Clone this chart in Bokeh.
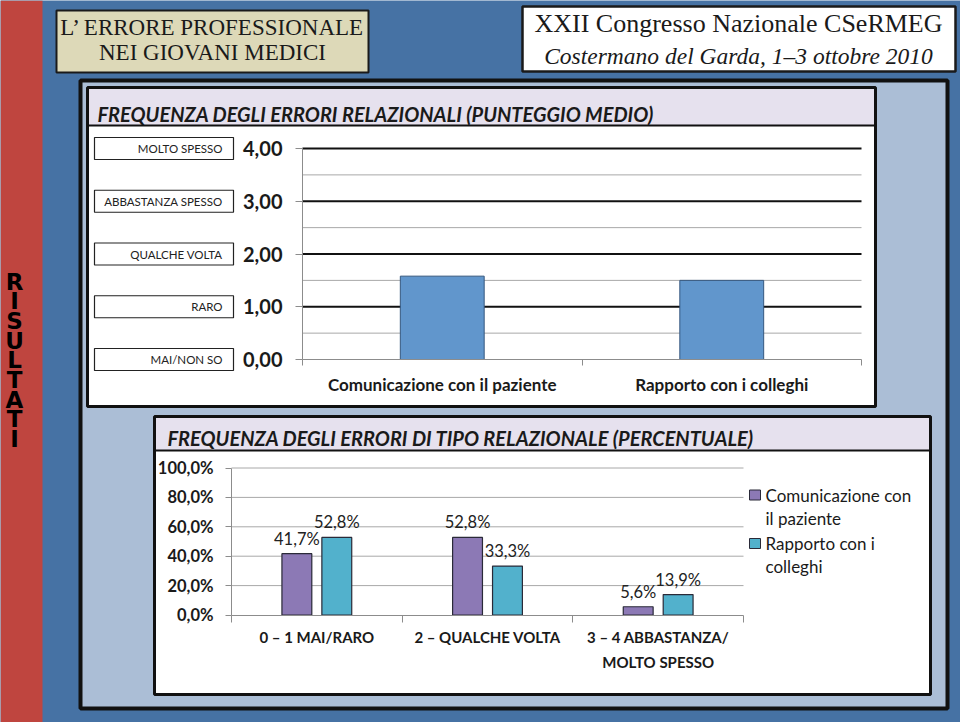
from bokeh.plotting import figure
from bokeh.models import Range1d, LinearAxis, FixedTicker, CustomJSTickFormatter
from bokeh.core.properties import value
from bokeh.embed import file_html
from bokeh.resources import INLINE

# ---------------- data ----------------
freq_levels = ["MAI/NON SO", "RARO", "QUALCHE VOLTA", "ABBASTANZA SPESSO", "MOLTO SPESSO"]
freq_ticks = [0, 1, 2, 3, 4]
top_categories = ["Comunicazione con il paziente", "Rapporto con i colleghi"]
top_scores = [1.58, 1.50]

pct_categories = ["0 \u2013 1 MAI/RARO", "2 \u2013 QUALCHE VOLTA", "3 \u2013 4 ABBASTANZA/\nMOLTO SPESSO"]
pct_paziente = [41.7, 52.8, 5.6]
pct_colleghi = [52.8, 33.3, 13.9]
series_names = ["Comunicazione con\nil paziente", "Rapporto con i\ncolleghi"]
pct_ticks = [0, 20, 40, 60, 80, 100]

title_lines = ["L\u2019 ERRORE PROFESSIONALE", "NEI GIOVANI MEDICI"]
logo_lines = ["XXII Congresso Nazionale CSeRMEG", "Costermano del Garda, 1\u20133 ottobre 2010"]
side_word = "RISULTATI"
top_title = "FREQUENZA DEGLI ERRORI RELAZIONALI (PUNTEGGIO MEDIO)"
bottom_title = "FREQUENZA DEGLI ERRORI DI TIPO RELAZIONALE (PERCENTUALE)"

# ---------------- styling ----------------
RED = "#BF453F"
BLUE = "#4672A4"
PANEL = "#ABBED6"
BEIGE = "#DDD9B8"
LAVENDER = "#E6E1EE"
BAR_TOP = "#6196CC"
PURPLE = "#8C79B5"
CYAN = "#52B1CC"
INK = "#1a1a1a"
AXIS_GRAY = "#8C8C8C"
GRID_GRAY = "#A8A8A8"
F = value("Lato")

W, H = 960, 722
X0, X1 = 0, 960
YT, YB = 0, 722

p = figure(width=W, height=H, x_range=Range1d(X0, X1), y_range=Range1d(YB, YT),
           output_backend="svg", toolbar_location=None,
           x_axis_type=None, y_axis_type=None, min_border=0,
           outline_line_color=None, background_fill_color=BLUE,
           border_fill_color=BLUE)


def xr(va, pa, vb, pb):
    k = (pb - pa) / (vb - va)
    return Range1d(va - (pa - X0) / k, va + (X1 - pa) / k)


def yr(va, pa, vb, pb):
    k = (pa - pb) / (vb - va)
    return Range1d(va - (YB - pa) / k, va + (pa - YT) / k)


p.extra_x_ranges = {"tx": xr(0, 302, len(top_categories), 861),
                    "bx": xr(0, 231, len(pct_categories), 743)}
p.extra_y_ranges = {"ty": yr(0, 359, 4, 148),
                    "by": yr(0, 614.5, 100, 467.5)}

# ---------------- slide decorations ----------------
p.quad(left=0, right=42, top=0, bottom=722, fill_color=RED, line_color=None)
p.quad(left=56, right=368, top=10, bottom=72, fill_color=BEIGE, line_color=INK, line_width=2)
p.quad(left=522, right=955, top=6, bottom=71, fill_color="white", line_color=INK, line_width=2.5)
p.quad(left=80, right=947, top=80, bottom=708, fill_color=PANEL, line_color="#111111", line_width=4)

# top chart box
p.quad(left=87, right=875, top=87, bottom=406, fill_color="white", line_color="#111111", line_width=3)
p.quad(left=88.5, right=873.5, top=88.5, bottom=125, fill_color=LAVENDER, line_color=None)
p.segment(x0=[87], y0=[125], x1=[875], y1=[125], line_color="#111111", line_width=2)

# bottom chart box
p.quad(left=154, right=930, top=416, bottom=694, fill_color="white", line_color="#111111", line_width=3)
p.quad(left=155.5, right=928.5, top=417.5, bottom=450, fill_color=LAVENDER, line_color=None)
p.segment(x0=[154], y0=[450], x1=[930], y1=[450], line_color="#111111", line_width=2)

# slide texts
p.text(x=[212, 212], y=[27, 52], text=title_lines, text_font=value("Liberation Serif"),
       text_font_size="23px", text_align="center", text_baseline="middle", text_color=INK)
p.text(x=[738], y=[23], text=[logo_lines[0]], text_font=value("Liberation Serif"),
       text_font_size="26px", text_align="center", text_baseline="middle", text_color=INK)
p.text(x=[738], y=[55], text=[logo_lines[1]], text_font=value("Liberation Serif"),
       text_font_size="23.5px", text_font_style="italic", text_align="center",
       text_baseline="middle", text_color=INK)
p.text(x=[14] * len(side_word), y=[281 + i * 19.7 for i in range(len(side_word))],
       text=list(side_word), text_font=value("DejaVu Sans"), text_font_size="23px",
       text_font_style="bold", text_align="center", text_baseline="middle", text_color="black")

p.text(x=[97], y=[113], text=[top_title], text_font=F, text_font_size="20px",
       text_font_style="bold italic", text_baseline="middle", text_color=INK)
p.text(x=[167], y=[437], text=[bottom_title], text_font=F, text_font_size="20px",
       text_font_style="bold italic", text_baseline="middle", text_color=INK)

# ---------------- top chart ----------------
ncat_t = len(top_categories)
major_lv = [t for t in freq_ticks if t > 0]
minor_lv = [t - 0.5 for t in freq_ticks if t > 0]
p.segment(x0=[0] * len(minor_lv), y0=minor_lv, x1=[ncat_t] * len(minor_lv), y1=minor_lv,
          line_color=GRID_GRAY, line_width=1, x_range_name="tx", y_range_name="ty")
p.segment(x0=[0] * len(major_lv), y0=major_lv, x1=[ncat_t] * len(major_lv), y1=major_lv,
          line_color="#111111", line_width=2, x_range_name="tx", y_range_name="ty")

p.vbar(x=[i + 0.5 for i in range(ncat_t)], top=top_scores, bottom=0, width=0.30,
       fill_color=BAR_TOP, line_color="#35577F", line_width=1,
       x_range_name="tx", y_range_name="ty")

yax_t = LinearAxis(y_range_name="ty", fixed_location=302, bounds=(0, 4),
                   ticker=FixedTicker(ticks=freq_ticks),
                   formatter=CustomJSTickFormatter(code="return tick.toFixed(2).replace('.', ',');"))
yax_t.axis_line_color = AXIS_GRAY
yax_t.major_tick_line_color = AXIS_GRAY
yax_t.major_tick_out = 7
yax_t.major_tick_in = 0
yax_t.minor_tick_line_color = None
yax_t.major_label_standoff = 13
yax_t.major_label_text_font = "Lato"
yax_t.major_label_text_font_size = "20px"
yax_t.major_label_text_font_style = "bold"
yax_t.major_label_text_color = INK
p.add_layout(yax_t, "left")

xax_t = LinearAxis(x_range_name="tx", y_range_name="ty", fixed_location=0, bounds=(0, ncat_t),
                   ticker=FixedTicker(ticks=[i + 0.5 for i in range(ncat_t)],
                                      minor_ticks=list(range(ncat_t + 1))),
                   formatter=CustomJSTickFormatter(args=dict(cats=top_categories),
                                                   code="return cats[Math.floor(tick)];"))
xax_t.axis_line_color = AXIS_GRAY
xax_t.major_tick_line_color = None
xax_t.minor_tick_line_color = AXIS_GRAY
xax_t.minor_tick_out = 6
xax_t.minor_tick_in = 0
xax_t.major_label_standoff = 8
xax_t.major_label_text_font = "Lato"
xax_t.major_label_text_font_size = "17px"
xax_t.major_label_text_font_style = "bold"
xax_t.major_label_text_color = INK
p.add_layout(xax_t, "below")

# frequency label boxes
p.rect(x=163.5, y=freq_ticks, width=139, height=22, width_units="screen", height_units="screen",
       fill_color="white", line_color="#222222", line_width=1.2, y_range_name="ty")
p.text(x=[222] * len(freq_levels), y=freq_ticks, text=freq_levels, text_font=F,
       text_font_size="11.5px", text_align="right", text_baseline="middle",
       text_color="#222222", y_range_name="ty")

# ---------------- bottom chart ----------------
ncat_b = len(pct_categories)
grid_b = [t for t in pct_ticks if t > 0]
p.segment(x0=[0] * len(grid_b), y0=grid_b, x1=[ncat_b] * len(grid_b), y1=grid_b,
          line_color=GRID_GRAY, line_width=1, x_range_name="bx", y_range_name="by")

offset, bw = 0.117, 0.175
for vals, col, sgn in ((pct_paziente, PURPLE, -1), (pct_colleghi, CYAN, 1)):
    xs = [i + 0.5 + sgn * offset for i in range(ncat_b)]
    p.vbar(x=xs, top=vals, bottom=0, width=bw, fill_color=col, line_color="#2A2A38",
           line_width=1.2, x_range_name="bx", y_range_name="by")
    p.text(x=xs, y=vals, text=[f"{v:.1f}".replace(".", ",") + "%" for v in vals],
           text_font=F, text_font_size="16.5px", text_align="center", text_baseline="middle",
           y_offset=-15, text_color="#222222", x_range_name="bx", y_range_name="by")

yax_b = LinearAxis(y_range_name="by", fixed_location=231, bounds=(0, 100),
                   ticker=FixedTicker(ticks=pct_ticks),
                   formatter=CustomJSTickFormatter(code="return tick.toFixed(1).replace('.', ',') + '%';"))
yax_b.axis_line_color = AXIS_GRAY
yax_b.major_tick_line_color = AXIS_GRAY
yax_b.major_tick_out = 6
yax_b.major_tick_in = 0
yax_b.minor_tick_line_color = None
yax_b.major_label_standoff = 12
yax_b.major_label_text_font = "Lato"
yax_b.major_label_text_font_size = "16.5px"
yax_b.major_label_text_font_style = "bold"
yax_b.major_label_text_color = INK
p.add_layout(yax_b, "left")

xax_b = LinearAxis(x_range_name="bx", y_range_name="by", fixed_location=0, bounds=(0, ncat_b),
                   ticker=FixedTicker(ticks=list(range(ncat_b + 1))),
                   formatter=CustomJSTickFormatter(code="return '';"))
xax_b.axis_line_color = AXIS_GRAY
xax_b.major_tick_line_color = AXIS_GRAY
xax_b.major_tick_out = 7
xax_b.major_tick_in = 0
xax_b.minor_tick_line_color = None
p.add_layout(xax_b, "below")

p.text(x=[i + 0.5 for i in range(ncat_b)], y=[0] * ncat_b, text=pct_categories,
       text_font=F, text_font_size="15px", text_font_style="bold", text_align="center",
       text_baseline="top", text_line_height=1.37, y_offset=13, text_color=INK,
       x_range_name="bx", y_range_name="by")

# legend
p.rect(x=[754.5, 754.5], y=[494.5, 543], width=11, height=10, width_units="screen",
       height_units="screen", fill_color=[PURPLE, CYAN], line_color="#2A2A38", line_width=1)
p.text(x=[765, 765], y=[484, 532], text=series_names, text_font=F, text_font_size="17px",
       text_baseline="top", text_line_height=1.1, text_color=INK)

open("out.html", "w").write(file_html(p, INLINE))
